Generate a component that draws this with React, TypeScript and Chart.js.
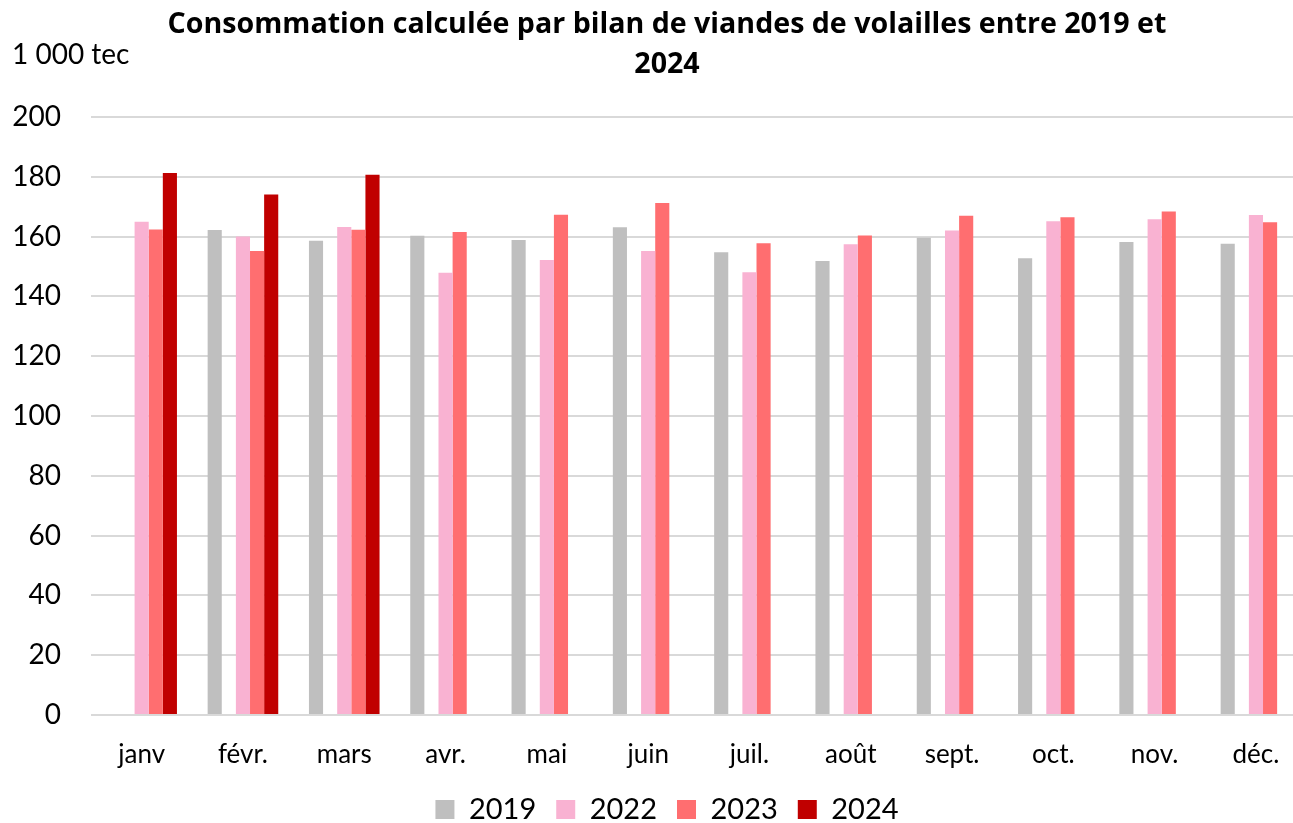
import React, { useEffect, useRef } from "react";
import { Chart, registerables } from "chart.js";

Chart.register(...registerables);

// ---- data ----
const categories = ["janv", "févr.", "mars", "avr.", "mai", "juin", "juil.", "août", "sept.", "oct.", "nov.", "déc."];
const values2019 = [null, 162.2, 158.6, 160.3, 158.9, 163.1, 154.8, 151.8, 159.6, 152.8, 158.2, 157.6];
const values2022 = [165.0, 160.0, 163.2, 147.9, 152.2, 155.2, 148.1, 157.4, 162.0, 165.1, 165.8, 167.2];
const values2023 = [162.4, 155.2, 162.3, 161.5, 167.3, 171.2, 157.8, 160.4, 167.0, 166.5, 168.4, 164.8];
const values2024 = [181.3, 174.1, 180.7, null, null, null, null, null, null, null, null, null];
const emptySlot = [null, null, null, null, null, null, null, null, null, null, null, null];
const seriesLabels = ["2019", "", "2022", "2023", "2024"];
const yMin = 0;
const yMax = 200;
const yStep = 20;
const titleLines = ["Consommation calculée par bilan de viandes de volailles entre 2019 et", "2024"];
const unitLabel = "1 000 tec";

// ---- layout / style ----
const CANVAS_W = 1334;
const CANVAS_H = 834;
const FONT = "Lato";
const TITLE_FONT = "'Open Sans'";
const colors = ["#bfbfbf", "rgba(0,0,0,0)", "#f9b2d2", "#ff6e70", "#c00000"];

const unitPlugin = {
  id: "unitLabel",
  afterDraw(chart: any) {
    const ctx = chart.ctx;
    ctx.save();
    ctx.font = `28px ${FONT}`;
    ctx.fillStyle = "#000";
    ctx.textAlign = "left";
    ctx.textBaseline = "alphabetic";
    ctx.fillText(unitLabel, 12, 64);
    ctx.restore();
  },
};

export default function App() {
  const ref = useRef<HTMLCanvasElement | null>(null);

  useEffect(() => {
    if (!ref.current) return;
    const allValues = [values2019, emptySlot, values2022, values2023, values2024];
    const chart = new Chart(ref.current, {
      type: "bar",
      data: {
        labels: categories,
        datasets: allValues.map((vals, i) => ({
          label: seriesLabels[i],
          data: vals,
          backgroundColor: colors[i],
          borderWidth: 0,
          categoryPercentage: 0.697,
          barPercentage: 1,
        })),
      },
      plugins: [unitPlugin],
      options: {
        responsive: false,
        animation: false,
        layout: { padding: 0 },
        plugins: {
          title: {
            display: true,
            text: titleLines,
            color: "#000",
            font: { family: TITLE_FONT, size: 28.6, weight: "bold", lineHeight: 40 / 28.6 },
            padding: { top: 5, bottom: 32 },
          },
          legend: {
            display: true,
            position: "bottom",
            labels: {
              filter: (item: any) => item.text !== "",
              boxWidth: 19,
              boxHeight: 19,
              padding: 20,
              color: "#000",
              font: { family: FONT, size: 29 },
            },
          },
          tooltip: { enabled: false },
        },
        scales: {
          x: {
            grid: { display: false },
            border: { display: false },
            ticks: {
              color: "#000",
              font: { family: FONT, size: 26 },
              padding: 16,
              maxRotation: 0,
              autoSkip: false,
            },
            afterFit: (s: any) => {
              s.height = 60;
            },
          },
          y: {
            min: yMin,
            max: yMax,
            border: { display: false },
            grid: { color: "#d9d9d9", lineWidth: 2, drawTicks: false },
            ticks: {
              stepSize: yStep,
              color: "#000",
              font: { family: FONT, size: 28 },
              padding: 30,
            },
            afterFit: (s: any) => {
              s.width = 91;
            },
          },
          yRight: {
            type: "linear",
            position: "right",
            display: true,
            grid: { display: false },
            border: { display: false },
            ticks: { display: false },
            afterFit: (s: any) => {
              s.width = 27.4;
            },
          },
        },
      },
    } as any);
    return () => chart.destroy();
  }, []);

  return (
    <div style={{ position: "fixed", left: 0, top: 0, width: 1293, height: 823, overflow: "hidden", background: "#fff" }}>
      <canvas ref={ref} width={CANVAS_W} height={CANVAS_H} style={{ width: CANVAS_W, height: CANVAS_H, display: "block" }} />
    </div>
  );
}
